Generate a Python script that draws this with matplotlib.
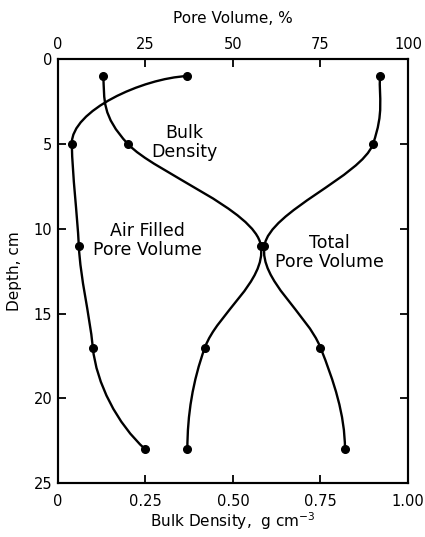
import numpy as np
import matplotlib.pyplot as plt
from matplotlib.path import Path
from matplotlib.patches import PathPatch

plt.rcParams['font.family'] = ['DejaVu Sans']

depth = [1, 5, 11, 17, 23]
bulk_density = [0.13, 0.20, 0.58, 0.42, 0.37]
total_pore = [92, 90, 59, 75, 82]
air_pore = [37, 4, 6, 10, 25]

W_PX, H_PX = 350, 424


def smooth(ax, xs, ys, xmax, dirs):
    # bezier segments through the points; dirs gives the tangent at a point
    # (None -> catmull-rom from the neighbours)
    p = np.column_stack([np.array(xs) / xmax * W_PX, np.array(ys) / 25 * H_PX])
    n = len(p)
    t = np.zeros_like(p)
    for i in range(n):
        lo, hi = max(i - 1, 0), min(i + 1, n - 1)
        chord = (p[hi] - p[lo]) / (hi - lo)
        if dirs.get(i) is None:
            t[i] = chord
        else:
            d = np.array(dirs[i], float)
            t[i] = d / np.hypot(*d) * np.hypot(*chord)
    verts = [p[0]]
    codes = [Path.MOVETO]
    for i in range(n - 1):
        verts += [p[i] + t[i] / 3, p[i + 1] - t[i + 1] / 3, p[i + 1]]
        codes += [Path.CURVE4] * 3
    verts = np.array(verts)
    verts[:, 0] = verts[:, 0] / W_PX * xmax
    verts[:, 1] = verts[:, 1] / H_PX * 25
    ax.add_patch(PathPatch(Path(verts, codes), fill=False, lw=1.7, color='black'))
    ax.plot(xs, ys, 'o', color='black', ms=5.5)


fig = plt.figure(figsize=(4.25, 5.37), dpi=100)
ax = fig.add_axes([0.136, 0.1, 0.824, 0.79])
ax2 = ax.twiny()

smooth(ax, bulk_density, depth, 1.0, {0: (0.05, 1), 2: (0.15, 1), 4: (0, 1)})
smooth(ax2, total_pore, depth, 100, {0: (-0.05, 1), 1: (-0.35, 1), 2: (-0.15, 1), 4: (0, 1)})
smooth(ax2, air_pore, depth, 100, {0: (-1, 0.05), 1: (0.02, 1), 2: (0.05, 1), 3: (0.1, 1), 4: (1, 0.9)})

ax.set_xlim(0, 1)
ax2.set_xlim(0, 100)
ax.set_ylim(25, 0)

ax.set_xticks([0, 0.25, 0.5, 0.75, 1.0])
ax.set_xticklabels(['0', '0.25', '0.50', '0.75', '1.00'])
ax2.set_xticks([0, 25, 50, 75, 100])
ax.set_yticks([0, 5, 10, 15, 20, 25])

for a in (ax, ax2):
    a.tick_params(direction='in', length=6, width=1.3, labelsize=10.5)
    for s in a.spines.values():
        s.set_linewidth(1.5)
ax.tick_params(axis='x', pad=8)
ax2.tick_params(axis='x', pad=5)
ax.tick_params(axis='y', right=True, pad=4)

ax.set_xlabel('Bulk Density,  g cm$^{-3}$', fontsize=11, labelpad=1)
ax2.set_xlabel('Pore Volume, %', fontsize=11, labelpad=10)
ax.set_ylabel('Depth, cm', fontsize=11, labelpad=8)

ax.text(0.362, 4.9, 'Bulk\nDensity', ha='center', va='center', fontsize=12.5, linespacing=1.1)
ax.text(0.256, 10.7, 'Air Filled\nPore Volume', ha='center', va='center', fontsize=12.5, linespacing=1.1)
ax.text(0.775, 11.4, 'Total\nPore Volume', ha='center', va='center', fontsize=12.5, linespacing=1.1)

fig.savefig('out.png', dpi=100)
